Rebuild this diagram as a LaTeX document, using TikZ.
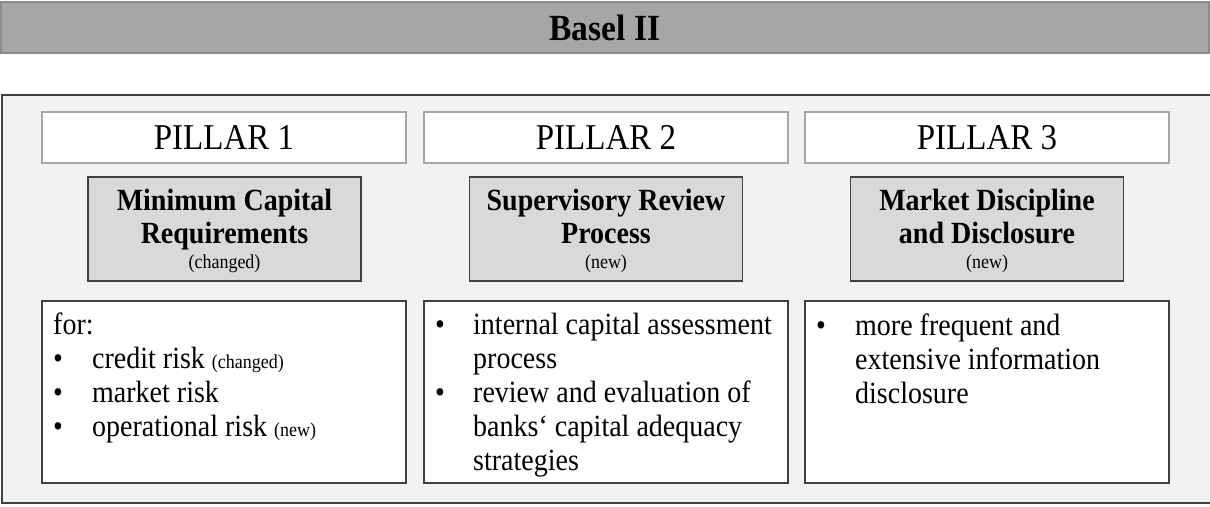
\documentclass[tikz,border=0pt]{standalone}
\usepackage{fontspec}
\setmainfont{Liberation Serif}
\usepackage{graphicx}
\definecolor{barfill}{HTML}{A6A6A6}
\definecolor{bardraw}{HTML}{8C8C8C}
\definecolor{outerfill}{HTML}{F2F2F2}
\definecolor{darkline}{HTML}{404040}
\definecolor{hdrline}{HTML}{A6A6A6}
\definecolor{grayfill}{HTML}{D9D9D9}
\newcommand{\vs}[1]{\scalebox{1}[1.1]{#1}}
\newcommand{\smallnote}[1]{{\fontsize{18}{20}\selectfont #1}}
\begin{document}
\begin{tikzpicture}[x=1pt,y=-1pt,
  topbar/.style={draw=bardraw,fill=barfill,line width=1.2pt,inner sep=0pt,minimum width=1208pt,minimum height=51pt},
  outerline/.style={draw=darkline,line width=1.5pt},
  hdrbox/.style={draw=hdrline,fill=white,line width=1.5pt,inner sep=0pt,minimum width=364pt,minimum height=51pt,
    font=\fontsize{33}{40}\selectfont},
  graybox/.style={draw=darkline,fill=grayfill,line width=1.5pt,inner sep=0pt,minimum width=273pt,minimum height=104pt},
  listbox/.style={draw=darkline,fill=white,line width=1.5pt,inner sep=0pt,minimum width=364pt,minimum height=182pt},
  titletext/.style={anchor=base,inner sep=0pt,align=center},
  listtext/.style={anchor=base west,inner sep=0pt}
]
\useasboundingbox (0,0) rectangle (1210,506);
% top bar
\node[topbar] (bar) at (605,27.5) {};
\node[anchor=base,inner sep=0pt] (bartext) at (605,40)
  {\fontsize{33.5}{40}\selectfont\bfseries\vs{Basel II}};
% outer frame (open on the right, running off the page)
\fill[outerfill] (2,95) rectangle (1210,503);
\draw[outerline] (1210,95) -- (2,95) -- (2,503) -- (1210,503);
% pillar headers
\node[hdrbox] (h1) at (224,137.5) {\vs{PILLAR 1}};
\node[hdrbox] (h2) at (606,137.5) {\vs{PILLAR 2}};
\node[hdrbox] (h3) at (987,137.5) {\vs{PILLAR 3}};
% gray boxes
\node[graybox] (g1) at (224.5,229) {};
\node[graybox] (g2) at (606,229) {};
\node[graybox] (g3) at (987,229) {};
\node[titletext] (gt1) at (224.5,210) {\fontsize{28}{30.9}\selectfont\vs{\begin{tabular}[t]{@{}c@{}}\bfseries Minimum Capital\\\bfseries Requirements\\[-8.2pt]\smallnote{(changed)}\end{tabular}}};
\node[titletext] (gt2) at (606,210) {\fontsize{28}{30.9}\selectfont\vs{\begin{tabular}[t]{@{}c@{}}\bfseries Supervisory Review\\\bfseries Process\\[-8.2pt]\smallnote{(new)}\end{tabular}}};
\node[titletext] (gt3) at (987,210) {\fontsize{28}{30.9}\selectfont\vs{\begin{tabular}[t]{@{}c@{}}\bfseries Market Discipline\\\bfseries and Disclosure\\[-8.2pt]\smallnote{(new)}\end{tabular}}};
% list boxes
\node[listbox] (l1) at (224,392) {};
\node[listbox] (l2) at (606,392) {};
\node[listbox] (l3) at (987,392) {};
\node[listtext] (lt1) at (53,334) {\fontsize{28}{31}\selectfont\vs{\begin{tabular}[t]{@{}p{39pt}@{}l@{}}
\multicolumn{2}{@{}l@{}}{for:}\\
•&credit risk \smallnote{(changed)}\\
•&market risk\\
•&operational risk \smallnote{(new)}
\end{tabular}}};
\node[listtext] (lt2) at (435,334) {\fontsize{28}{31}\selectfont\vs{\begin{tabular}[t]{@{}p{38pt}@{}l@{}}
•&internal capital assessment\\
&process\\
•&review and evaluation of\\
&banks‘ capital adequacy\\
&strategies
\end{tabular}}};
\node[listtext] (lt3) at (816,335) {\fontsize{28}{31}\selectfont\vs{\begin{tabular}[t]{@{}p{39pt}@{}l@{}}
•&more frequent and\\
&extensive information\\
&disclosure
\end{tabular}}};
\end{tikzpicture}
\end{document}
